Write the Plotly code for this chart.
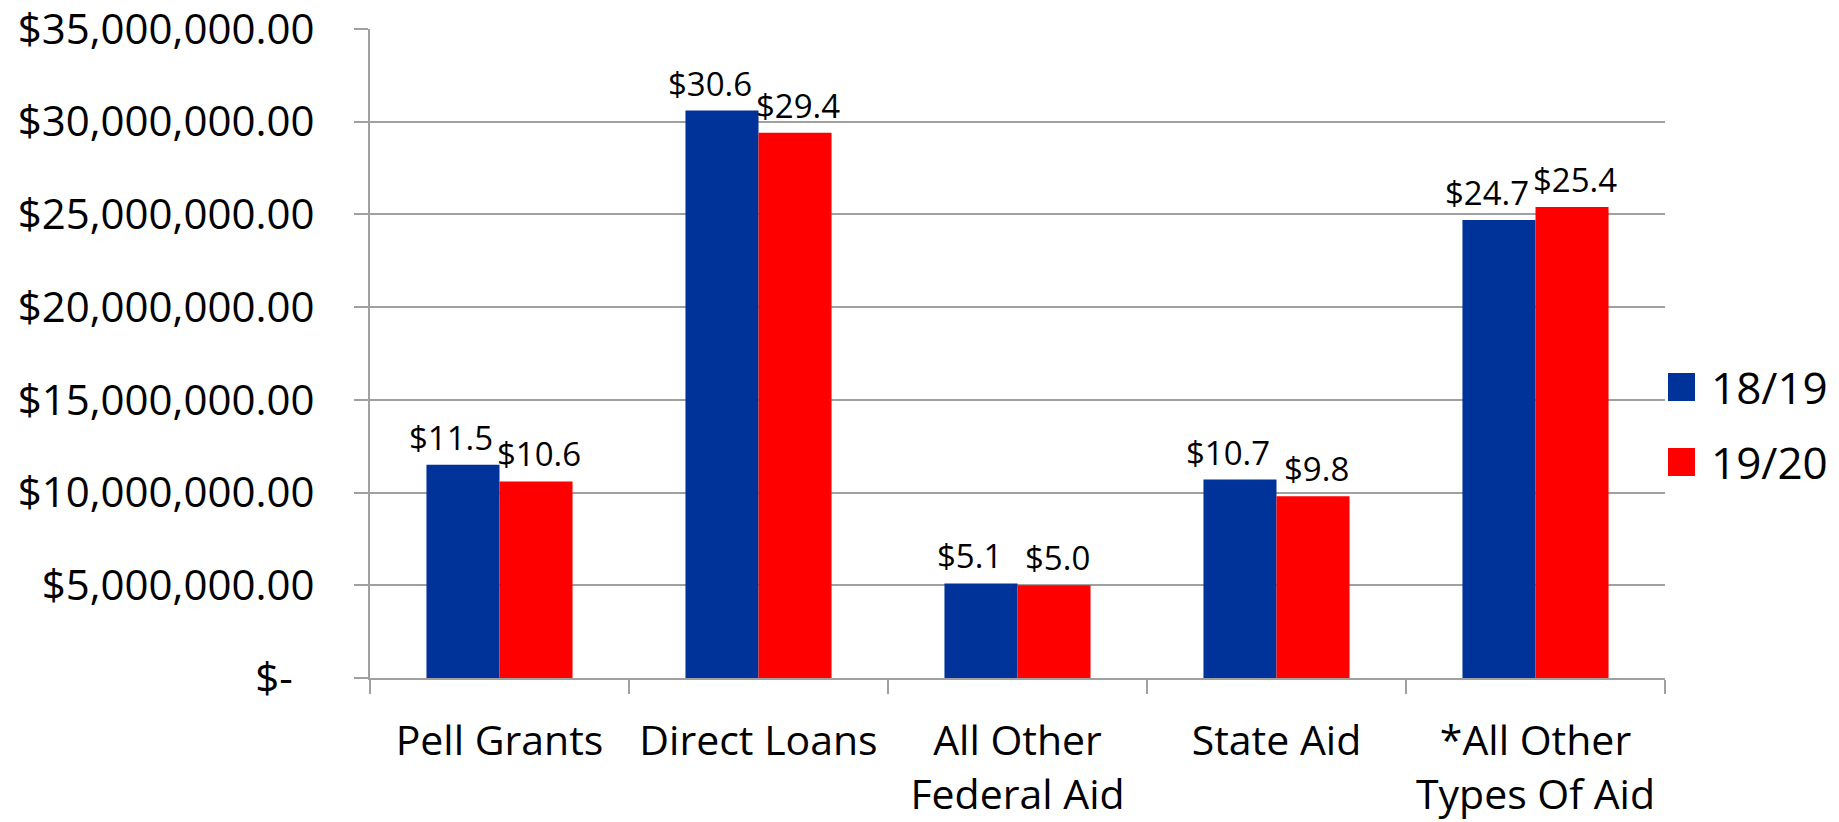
import plotly.graph_objects as go

categories = ["Pell Grants", "Direct Loans", "All Other<br>Federal Aid", "State Aid", "*All Other<br>Types Of Aid"]
series_names = ["18/19", "19/20"]
values_1819 = [11_500_000, 30_600_000, 5_100_000, 10_700_000, 24_700_000]
values_1920 = [10_600_000, 29_400_000, 5_000_000, 9_800_000, 25_400_000]
tick_values = [0, 5_000_000, 10_000_000, 15_000_000, 20_000_000, 25_000_000, 30_000_000, 35_000_000]
tick_labels = ["$-\u00a0\u00a0", "$5,000,000.00", "$10,000,000.00", "$15,000,000.00",
               "$20,000,000.00", "$25,000,000.00", "$30,000,000.00", "$35,000,000.00"]
colors = ["#003399", "#FF0000"]

FONT = "Open Sans"
GRID = "#A0A0A0"

# page body has an 8px margin; compensate so plot area lands at x 370..1665, y 29..678
L, T, PW, PH = 362, 21, 1295, 649
W, H = 1831, 814

fig = go.Figure()
label_annotations = []
label_xshift = [-36.5 - 12, 36.5 + 3]
for name, vals, col, xs in zip(series_names, [values_1819, values_1920], colors, label_xshift):
    fig.add_trace(go.Bar(
        x=categories, y=vals, name=name,
        marker=dict(color=col, line=dict(width=0)),
        showlegend=False,
    ))
    for c, v in zip(categories, vals):
        label_annotations.append(dict(
            x=c, y=v, xref="x", yref="y", xanchor="center", yanchor="bottom",
            xshift=xs, yshift=4, showarrow=False, borderpad=0,
            text=f"${v/1e6:.1f}", font=dict(family=FONT, size=33, color="black")))

# manual legend (large square swatches)
leg_y = [0.4484, 0.3328]
shapes = []
legend_annotations = []
for name, col, yy in zip(series_names, colors, leg_y):
    shapes.append(dict(type="rect", xref="paper", yref="paper",
                       xsizemode="pixel", ysizemode="pixel",
                       xanchor=1.0023, yanchor=yy,
                       x0=0, x1=27, y0=-14, y1=14,
                       fillcolor=col, line=dict(width=0)))
    legend_annotations.append(dict(xref="paper", yref="paper", x=1.034, y=yy,
                                   xanchor="left", yanchor="middle", showarrow=False,
                                   text=name, font=dict(family=FONT, size=44, color="black")))

fig.update_layout(
    width=W, height=H,
    margin=dict(l=L, r=W - L - PW, t=T, b=H - T - PH, autoexpand=False),
    paper_bgcolor="white", plot_bgcolor="white",
    barmode="group", bargap=0.436, bargroupgap=0,
    font=dict(family=FONT, color="black"),
    shapes=shapes, annotations=label_annotations + legend_annotations,
    showlegend=False,
)
fig.update_xaxes(
    type="category", showline=True, linecolor=GRID, linewidth=2,
    ticks="outside", tickson="boundaries", ticklen=14, tickcolor=GRID, tickwidth=2,
    showgrid=False, tickfont=dict(family=FONT, size=41, color="black"),
    ticklabelstandoff=26, automargin=False, ticklabeloverflow="allow",
)
fig.update_yaxes(
    range=[0, 35_000_000], tickvals=tick_values, ticktext=tick_labels,
    showline=True, linecolor=GRID, linewidth=2,
    ticks="outside", ticklen=14, tickcolor=GRID, tickwidth=2,
    showgrid=True, gridcolor=GRID, gridwidth=2, zeroline=False,
    tickfont=dict(family=FONT, size=42, color="black"),
    ticklabelstandoff=31, automargin=False, ticklabeloverflow="allow",
)

fig.write_html("out.html")
